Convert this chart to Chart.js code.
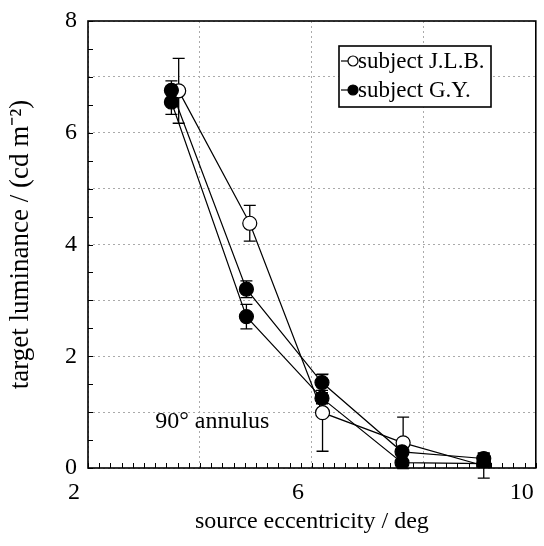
<!DOCTYPE html>
<html>
<head>
<meta charset="utf-8">
<script src="https://cdn.jsdelivr.net/npm/chart.js@4"></script>
<style>
  body { margin: 0; background: #fff; }
</style>
</head>
<body>
<canvas id="myChart" width="544" height="546"></canvas>
<script>
// subject J.L.B. (open circles)
const xJLB = [3.62, 4.89, 6.19, 7.63, 9.07];
const yJLB = [6.75, 4.38, 0.99, 0.45, 0.04];
const errJLB = [0.58, 0.32, 0.69, 0.46, 0.22];

// subject G.Y. (filled circles), two runs
const xGY = [3.49, 4.83, 6.18, 7.61, 9.07];
const yGY1 = [6.76, 3.20, 1.53, 0.29, 0.17];
const errGY1 = [0.17, 0.15, 0.14, 0.06, 0.10];
const yGY2 = [6.55, 2.71, 1.25, 0.095, 0.08];
const errGY2 = [0.22, 0.22, 0.10, 0.04, 0.06];

const xLabels = [2, 6, 10];
const yLabels = [0, 2, 4, 6, 8];

const FONT = "'Liberation Serif', 'Times New Roman', serif";

function toPoints(xs, ys) {
    return xs.map((x, i) => ({ x: x, y: ys[i] }));
}

// error bars with caps, drawn under the lines and markers
const errorBars = {
    id: 'errorBars',
    beforeDatasetsDraw(chart) {
        const { ctx, scales: { x, y } } = chart;
        ctx.save();
        ctx.strokeStyle = '#000';
        ctx.lineWidth = 1.3;
        chart.data.datasets.forEach(ds => {
            ds.data.forEach((p, i) => {
                const e = ds.errors[i];
                const px = x.getPixelForValue(p.x);
                const top = y.getPixelForValue(p.y + e);
                const bot = y.getPixelForValue(p.y - e);
                ctx.beginPath();
                ctx.moveTo(px, top); ctx.lineTo(px, bot);
                ctx.moveTo(px - 6, top); ctx.lineTo(px + 6, top);
                ctx.moveTo(px - 6, bot); ctx.lineTo(px + 6, bot);
                ctx.stroke();
            });
        });
        ctx.restore();
    }
};

// box frame, inward minor ticks, annotation and legend
const frame = {
    id: 'frame',
    afterDraw(chart) {
        const { ctx, chartArea: a, scales: { x, y } } = chart;
        ctx.save();
        ctx.strokeStyle = '#000';
        ctx.lineWidth = 1.6;
        ctx.strokeRect(a.left, a.top, a.right - a.left, a.bottom - a.top);

        ctx.lineWidth = 1;
        ctx.beginPath();
        for (let v = 2; v <= 10.001; v += 0.2) {
            const px = Math.round(x.getPixelForValue(v)) + 0.5;
            ctx.moveTo(px, a.bottom); ctx.lineTo(px, a.bottom - 5);
        }
        for (let v = 0; v <= 8.001; v += 0.5) {
            const py = Math.round(y.getPixelForValue(v)) + 0.5;
            ctx.moveTo(a.left, py); ctx.lineTo(a.left + 5, py);
        }
        ctx.stroke();

        // annotation
        ctx.fillStyle = '#000';
        ctx.font = '24px ' + FONT;
        ctx.textBaseline = 'alphabetic';
        ctx.fillText('90° annulus', x.getPixelForValue(3.2), y.getPixelForValue(0.72));

        // legend
        const lx = a.left + 251, ly = a.top + 25, lw = 152, lh = 61;
        ctx.fillStyle = '#fff';
        ctx.fillRect(lx, ly, lw, lh);
        ctx.lineWidth = 1.6;
        ctx.strokeRect(lx, ly, lw, lh);
        const items = [
            { text: 'subject J.L.B.', fill: '#fff', base: ly + 22 },
            { text: 'subject G.Y.', fill: '#000', base: ly + 51 }
        ];
        items.forEach(it => {
            const cy = it.base - 7;
            ctx.lineWidth = 1.2;
            ctx.beginPath();
            ctx.moveTo(lx + 2, cy); ctx.lineTo(lx + 10, cy);
            ctx.stroke();
            ctx.beginPath();
            ctx.arc(lx + 14, cy, 5, 0, Math.PI * 2);
            ctx.fillStyle = it.fill;
            ctx.fill();
            ctx.stroke();
            ctx.fillStyle = '#000';
            ctx.font = '23px ' + FONT;
            ctx.fillText(it.text, lx + 19, it.base);
        });
        ctx.restore();
    }
};

function seriesStyle(fill) {
    return {
        showLine: true,
        borderColor: '#000',
        borderWidth: 1.2,
        pointRadius: 7,
        pointHoverRadius: 7,
        pointBorderWidth: 1.2,
        pointBorderColor: '#000',
        pointBackgroundColor: fill,
        backgroundColor: fill
    };
}

const ctx = document.getElementById('myChart');

new Chart(ctx, {
    type: 'scatter',
    data: {
        datasets: [
            Object.assign({ label: 'subject G.Y.', data: toPoints(xGY, yGY1), errors: errGY1 }, seriesStyle('#000')),
            Object.assign({ label: 'subject G.Y.', data: toPoints(xGY, yGY2), errors: errGY2 }, seriesStyle('#000')),
            Object.assign({ label: 'subject J.L.B.', data: toPoints(xJLB, yJLB), errors: errJLB }, seriesStyle('#fff'))
        ]
    },
    options: {
        responsive: false,
        animation: false,
        layout: { padding: { top: 21, right: 8, left: 0, bottom: 0 } },
        plugins: {
            legend: { display: false },
            tooltip: { enabled: false }
        },
        scales: {
            x: {
                type: 'linear',
                min: 2,
                max: 10,
                afterFit(scale) {
                    scale.height = 78;
                    scale.paddingLeft = 0;
                    scale.paddingRight = 0;
                },
                grid: { color: '#aaa', lineWidth: 1, drawTicks: false },
                border: { display: false, dash: [2, 3] },
                ticks: {
                    stepSize: 2,
                    padding: 10,
                    labelOffset: -14,
                    color: '#000',
                    font: { family: FONT, size: 24 },
                    callback: v => xLabels.includes(v) ? String(v) : ''
                },
                title: {
                    display: true,
                    text: 'source eccentricity / deg',
                    color: '#000',
                    font: { family: FONT, size: 24 },
                    padding: { top: 0, bottom: 10 }
                }
            },
            y: {
                min: 0,
                max: 8,
                afterFit(scale) {
                    scale.width = 88;
                    scale.paddingTop = 0;
                    scale.paddingBottom = 0;
                },
                grid: { color: '#aaa', lineWidth: 1, drawTicks: false },
                border: { display: false, dash: [2, 3] },
                ticks: {
                    stepSize: 1,
                    padding: 11,
                    color: '#000',
                    font: { family: FONT, size: 24 },
                    callback: v => yLabels.includes(v) ? String(v) : ''
                },
                title: {
                    display: true,
                    text: 'target luminance / (cd m⁻²)',
                    color: '#000',
                    font: { family: FONT, size: 27 },
                    padding: { top: 5, bottom: 0 }
                }
            }
        }
    },
    plugins: [errorBars, frame]
});
</script>
</body>
</html>
